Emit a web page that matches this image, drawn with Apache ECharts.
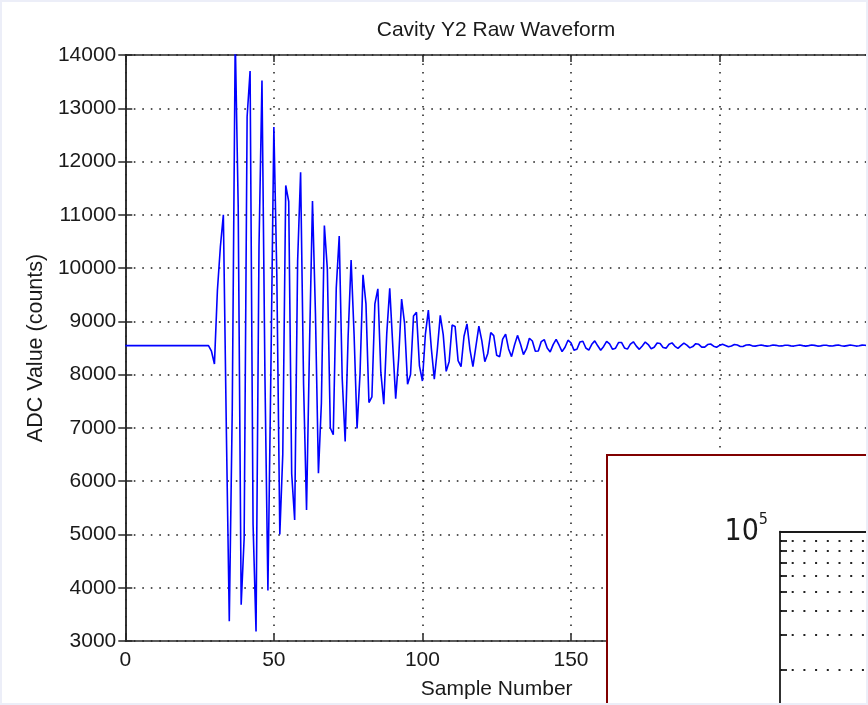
<!DOCTYPE html>
<html>
<head>
<meta charset="utf-8">
<script src="https://cdn.jsdelivr.net/npm/echarts@6/dist/echarts.min.js"></script>
<style>
  html, body { margin: 0; padding: 0; background: #ffffff; }
  #chart { width: 868px; height: 705px; }
</style>
</head>
<body>
<div id="chart"></div>
<script>
// Cavity Y2 raw ADC record, one value per sample (samples 0..250).
const preTrigger = [
  8545, 8545, 8545, 8545, 8545, 8545, 8545, 8545, 8545, 8545,
  8545, 8545, 8545, 8545, 8545, 8545, 8545, 8545, 8545, 8545,
  8545, 8545, 8545, 8545, 8545, 8545, 8545, 8545, 8545
];
const ringUp = [
  8440, 8200, 9580, 10400, 11000, 7000, 3370, 7350, 14330, 11150,
  3680, 4930, 12840, 13700, 5190, 3180, 10410, 13520, 7960, 3950,
  8080, 12650, 9860, 5000, 6500, 11550, 11250, 6140, 5270, 10130,
  11800, 7820, 5460, 8540, 11260
];
const ringDown = [
  9141, 6149, 7469, 10800, 9980, 6998, 6872, 9621, 10600, 7933,
  6744, 8724, 10150, 8752, 6992, 8015, 9875, 9328, 7476, 7584,
  9330, 9611, 8046, 7444, 8771, 9619, 8568, 7550, 8307, 9420,
  8957, 7821, 8004, 9102, 9170, 8163, 7880, 8757, 9210, 8493,
  7914, 8457, 9113, 8751, 8061, 8248, 8931, 8905, 8264, 8149,
  8720, 8952, 8470, 8150, 8529, 8910, 8635, 8242, 8397, 8790,
  8732, 8363, 8336, 8665, 8761, 8482, 8338, 8557, 8737, 8575,
  8378, 8482, 8683, 8632, 8438, 8443, 8620, 8657, 8498, 8427,
  8564, 8663, 8552, 8433, 8513, 8646, 8598, 8460, 8476, 8611,
  8626, 8500, 8459, 8569, 8634, 8541, 8459, 8529, 8625, 8578,
  8475, 8497, 8603, 8604, 8502, 8479, 8572, 8616, 8535, 8475,
  8539, 8611, 8565, 8487, 8513, 8594, 8586, 8508, 8497, 8570,
  8596, 8532, 8494, 8546, 8593, 8554, 8502, 8527, 8581, 8569,
  8517, 8516, 8565, 8575, 8534, 8515, 8549
];
const settled = [
  8570, 8548, 8522, 8538, 8565, 8556, 8528, 8531, 8556, 8560,
  8540, 8535, 8548, 8556, 8545, 8535, 8543, 8555, 8550, 8537,
  8539, 8552, 8553, 8540, 8536, 8548, 8555, 8544, 8535, 8544,
  8555, 8549, 8536, 8540, 8553, 8552, 8539, 8537, 8549, 8555,
  8543, 8535, 8545, 8555, 8548, 8536, 8541, 8554, 8552, 8538
];

// Axis ranges and tick spacing of the waveform panel.
const sampleRange = [0, 250];
const sampleStep = 50;
const countRange = [3000, 14000];
const countStep = 1000;

// Log-scale ticks of the spectrum panel in the corner.
const insetDecades = [1e4, 1e5];
const insetMinor = [2e4, 3e4, 4e4, 5e4, 6e4, 7e4, 8e4, 9e4];

const adcCounts = preTrigger.concat(ringUp, ringDown, settled);
const waveform = adcCounts.map((v, i) => [i, v]);

const FONT = '"Liberation Sans", Arial, Helvetica, sans-serif';
const NARROW = '"Liberation Sans Narrow", "DejaVu Sans Condensed", "Liberation Sans", sans-serif';
const INK = '#1a1a1a';
const AXIS = '#262626';
const dots = { type: [1.6, 6.9], color: '#1e1e1e', width: 1.5 };
const plain = v => String(v);

const insetTickVals = insetDecades.concat(insetMinor).map(v => Math.log10(v)).sort((a, b) => a - b);
const insetLabelVals = insetDecades.map(v => Math.log10(v));

const boxAxis = {
  axisLine: { show: true, lineStyle: { color: AXIS, width: 1.5 } },
  axisTick: { show: true, inside: true, length: 7, lineStyle: { color: AXIS, width: 1.5 } }
};

const chart = echarts.init(document.getElementById('chart'), null, { renderer: 'canvas' });

chart.setOption({
  animation: false,
  backgroundColor: '#ffffff',
  textStyle: { fontFamily: FONT },
  grid: [
    { left: 125.3, top: 55, width: 742.8, height: 586, containLabel: false, outerBoundsMode: 'none' },
    { left: 780, top: 531.7, width: 320, height: 198, containLabel: false, outerBoundsMode: 'none' }
  ],
  xAxis: [
    Object.assign({
      gridIndex: 0, type: 'value', position: 'bottom',
      min: sampleRange[0], max: sampleRange[1], interval: sampleStep,
      name: 'Sample Number', nameLocation: 'middle', nameGap: 38,
      nameTextStyle: { fontSize: 21, color: INK, fontFamily: FONT },
      axisLabel: { fontSize: 21, color: INK, margin: 9, fontFamily: FONT, formatter: plain },
      splitLine: { show: true, lineStyle: dots }
    }, boxAxis),
    Object.assign({
      gridIndex: 0, type: 'value', position: 'top',
      min: sampleRange[0], max: sampleRange[1], interval: sampleStep,
      axisLabel: { show: false }, splitLine: { show: false }
    }, boxAxis),
    {
      gridIndex: 1, type: 'value', position: 'top', min: 0, max: 1, z: 60,
      axisLine: { show: true, lineStyle: { color: INK, width: 1.8 } },
      axisTick: { show: false }, axisLabel: { show: false }, splitLine: { show: false }
    }
  ],
  yAxis: [
    Object.assign({
      gridIndex: 0, type: 'value', position: 'left',
      min: countRange[0], max: countRange[1], interval: countStep,
      name: 'ADC Value (counts)', nameLocation: 'middle', nameGap: 76, nameRotate: 90,
      nameTextStyle: { fontSize: 21.5, color: INK, fontFamily: FONT },
      axisLabel: { fontSize: 21, color: INK, margin: 9, fontFamily: FONT, formatter: plain },
      splitLine: { show: true, lineStyle: dots }
    }, boxAxis),
    Object.assign({
      gridIndex: 0, type: 'value', position: 'right',
      min: countRange[0], max: countRange[1], interval: countStep,
      axisLabel: { show: false }, splitLine: { show: false }
    }, boxAxis),
    {
      gridIndex: 1, type: 'value', position: 'left', min: 4, max: 5, z: 60,
      axisLine: { show: true, lineStyle: { color: INK, width: 1.8 } },
      axisTick: { show: true, inside: true, length: 7, customValues: insetTickVals,
                  lineStyle: { color: INK, width: 1.8 } },
      axisLabel: {
        show: true, customValues: insetLabelVals, margin: 12, padding: [0, 0, 4, 0],
        formatter: v => '{b|10}{e|' + Math.round(v) + '}',
        rich: {
          b: { fontSize: 30, fontFamily: NARROW, color: INK, padding: [6, 0, 0, 0] },
          e: { fontSize: 16, fontFamily: NARROW, color: INK, verticalAlign: 'top' }
        }
      },
      splitLine: { show: true, lineStyle: { type: [2, 9.7], color: '#222222', width: 2 } }
    }
  ],
  graphic: [
    {
      type: 'text', x: 496, y: 30, z: 10,
      style: { text: 'Cavity Y2 Raw Waveform', fill: INK, font: '21px ' + FONT,
               align: 'center', verticalAlign: 'middle' }
    },
    {
      type: 'rect', z: 50,
      shape: { x: 607, y: 455, width: 400, height: 400 },
      style: { fill: '#ffffff', stroke: '#800000', lineWidth: 2 }
    },
    {
      type: 'rect', z: 200, silent: true,
      shape: { x: 1, y: 1, width: 866, height: 703 },
      style: { fill: 'none', stroke: '#eceef8', lineWidth: 2 }
    }
  ],
  series: [
    {
      type: 'line', xAxisIndex: 0, yAxisIndex: 0,
      data: waveform, showSymbol: false, symbol: 'none', silent: true,
      lineStyle: { color: '#0000ff', width: 1.6 },
      clip: true
    }
  ]
});
</script>
</body>
</html>
